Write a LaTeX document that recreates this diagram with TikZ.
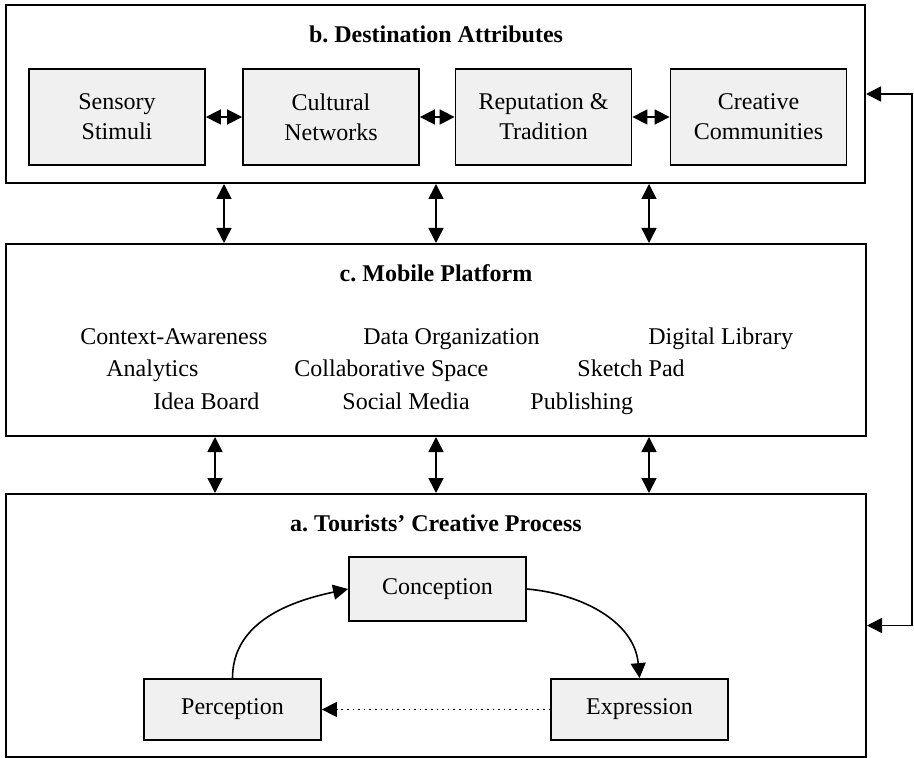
\documentclass[tikz,border=0pt]{standalone}
\usepackage{fontspec}
\setmainfont{Liberation Serif}
\usetikzlibrary{arrows.meta}
\definecolor{boxfill}{RGB}{240,240,240}
\frenchspacing
\begin{document}
\begin{tikzpicture}[x=0.5pt,y=-0.5pt,
  every node/.style={font=\fontsize{12}{15}\selectfont},
  panel/.style={draw,line width=1pt,inner sep=0pt},
  heading/.style={anchor=base,inner sep=0pt,font=\fontsize{12}{15}\selectfont\bfseries},
  attrbox/.style={draw,fill=boxfill,line width=0.9pt,minimum width=88pt,minimum height=48pt,align=center,inner sep=0pt},
  procbox/.style={draw,fill=boxfill,line width=0.9pt,minimum width=88.5pt,inner sep=0pt},
  item/.style={anchor=base west,inner sep=0pt},
  tip/.style={-{Triangle[length=7.5pt,width=7.5pt]},line width=0.8pt},
  dbl/.style={{Triangle[length=7.5pt,width=7.5pt]}-{Triangle[length=7.5pt,width=7.5pt]},line width=0.8pt}]
\useasboundingbox (0,0) rectangle (914,758);

% b. destination attributes
\node[panel,minimum width=429.5pt,minimum height=89pt] (bb) at (435.5,94) {};
\node[heading] (tb) at (436,43) {b. Destination Attributes};
\node[attrbox] (s1) at (117,117) {Sensory\\Stimuli};
\node[attrbox] (s2) at (331,117) {Cultural\\Networks};
\node[attrbox] (s3) at (543.5,117) {Reputation \&\\Tradition};
\node[attrbox] (s4) at (758.5,117) {Creative\\Communities};
\draw[dbl] (s1) -- (s2);
\draw[dbl] (s2) -- (s3);
\draw[dbl] (s3) -- (s4);

% c. mobile platform
\node[panel,minimum width=430pt,minimum height=96pt] (cc) at (436,340) {};
\node[heading] (tc) at (436,282) {c. Mobile Platform};
\node[item] (m1) at (80,345) {Context-Awareness};
\node[item] (m2) at (363,345) {Data Organization};
\node[item] (m3) at (648,345) {Digital Library};
\node[item] (m4) at (106,377) {Analytics};
\node[item] (m5) at (294,377) {Collaborative Space};
\node[item] (m6) at (577,377) {Sketch Pad};
\node[item] (m7) at (153,409) {Idea Board};
\node[item] (m8) at (342,409) {Social Media};
\node[item] (m9) at (530,409) {Publishing};

% a. tourists' creative process
\node[panel,minimum width=430pt,minimum height=131.5pt] (aa) at (436,625.5) {};
\node[heading] (ta) at (436,531) {a. Tourists’ Creative Process};
\node[procbox,minimum height=32pt] (con) at (437.5,589) {Conception};
\node[procbox,minimum height=30.5pt] (per) at (232.5,709.5) {Perception};
\node[procbox,minimum height=30.5pt] (exp) at (639.5,709.5) {Expression};
\draw[tip] (per.north) to[out=90,in=192] (con.west);
\draw[tip] (con.east) to[out=-5,in=95] (exp.north);
\draw[tip,dotted] (exp) -- (per);

% links between the layers
\coordinate (u1) at (224,0);
\coordinate (u2) at (436,0);
\coordinate (u3) at (649,0);
\coordinate (l1) at (215,0);
\coordinate (l2) at (436,0);
\coordinate (l3) at (649,0);
\draw[dbl] (bb.south -| u1) -- (cc.north -| u1);
\draw[dbl] (bb.south -| u2) -- (cc.north -| u2);
\draw[dbl] (bb.south -| u3) -- (cc.north -| u3);
\draw[dbl] (cc.south -| l1) -- (aa.north -| l1);
\draw[dbl] (cc.south -| l2) -- (aa.north -| l2);
\draw[dbl] (cc.south -| l3) -- (aa.north -| l3);

% feedback loop on the right
\coordinate (rail) at (912,400);
\draw[dbl] (bb.east) -| (rail) |- (aa.east);
\end{tikzpicture}
\end{document}
